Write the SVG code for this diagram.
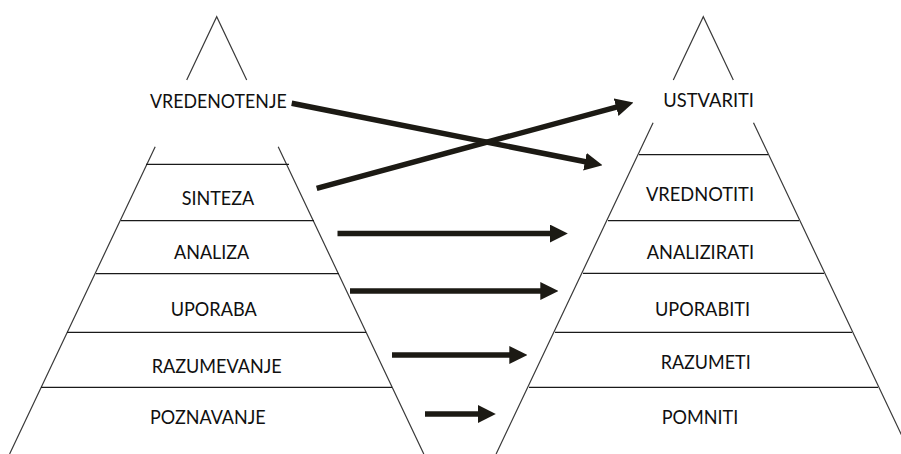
<svg xmlns="http://www.w3.org/2000/svg" width="901" height="454" viewBox="0 0 901 454">
<style>
.side{stroke:#3a3a3a;stroke-width:1.2;fill:none}
.lvl{stroke:#1a1a1a;stroke-width:1.3;fill:none}
.lbl{font-family:Lato,"Open Sans","Liberation Sans",sans-serif;font-size:19.5px;fill:#101010}
.arr{stroke:#1c1a14;stroke-width:5.5;fill:none;marker-end:url(#ah)}
</style>
<defs>
<marker id="ah" markerUnits="userSpaceOnUse" markerWidth="18" markerHeight="18" refX="3" refY="8.5" orient="auto" viewBox="0 0 17 17">
<path d="M0,0 L17,8.5 L0,17 z" fill="#1c1a14"/>
</marker>
</defs>
<rect width="901" height="454" fill="#fff"/>
<g id="left-pyramid">
<path class="side" d="M186.7,80 L216.7,16.7 L246.7,80"/>
<path class="side" d="M155.2,146.7 L9.6,454 M278.2,146.7 L423.8,454"/>
<path class="lvl" d="M146,164.3 H289 M121,220.7 H314 M96,273.7 H339 M67,332.3 H366 M41,387.3 H392"/>
</g>
<g id="right-pyramid">
<path class="side" d="M673.3,80 L703.3,16.7 L733.3,80"/>
<path class="side" d="M653.1,122.7 L496.1,454 M753.5,122.7 L906,444.5"/>
<path class="lvl" d="M639,154.7 H768 M608,220.7 H799 M583,273.3 H824 M555,332.3 H852 M529,387.3 H878"/>
</g>
<g id="n-vredenotenje"><text class="lbl" x="150" y="108" textLength="136.7" lengthAdjust="spacingAndGlyphs">VREDENOTENJE</text></g>
<g id="n-sinteza"><text class="lbl" x="181.7" y="205" textLength="72.6" lengthAdjust="spacingAndGlyphs">SINTEZA</text></g>
<g id="n-analiza"><text class="lbl" x="174" y="259.3" textLength="75.3" lengthAdjust="spacingAndGlyphs">ANALIZA</text></g>
<g id="n-uporaba"><text class="lbl" x="170.7" y="316" textLength="86" lengthAdjust="spacingAndGlyphs">UPORABA</text></g>
<g id="n-razumevanje"><text class="lbl" x="151.7" y="372.5" textLength="130" lengthAdjust="spacingAndGlyphs">RAZUMEVANJE</text></g>
<g id="n-poznavanje"><text class="lbl" x="150" y="424" textLength="115.7" lengthAdjust="spacingAndGlyphs">POZNAVANJE</text></g>
<g id="n-ustvariti"><text class="lbl" x="663.3" y="106.7" textLength="90.7" lengthAdjust="spacingAndGlyphs">USTVARITI</text></g>
<g id="n-vrednotiti"><text class="lbl" x="646" y="201" textLength="108" lengthAdjust="spacingAndGlyphs">VREDNOTITI</text></g>
<g id="n-analizirati"><text class="lbl" x="646.7" y="259.3" textLength="107.3" lengthAdjust="spacingAndGlyphs">ANALIZIRATI</text></g>
<g id="n-uporabiti"><text class="lbl" x="655" y="316" textLength="95" lengthAdjust="spacingAndGlyphs">UPORABITI</text></g>
<g id="n-razumeti"><text class="lbl" x="660.7" y="368.5" textLength="90" lengthAdjust="spacingAndGlyphs">RAZUMETI</text></g>
<g id="n-pomniti"><text class="lbl" x="661.7" y="424" textLength="76.6" lengthAdjust="spacingAndGlyphs">POMNITI</text></g>
<g id="connectors">
<line class="arr" x1="291.7" y1="103.3" x2="588" y2="162.3"/>
<line class="arr" x1="316.7" y1="188.3" x2="619.2" y2="106.4"/>
<line class="arr" x1="337.5" y1="233.5" x2="553" y2="233.5"/>
<line class="arr" x1="350" y1="291" x2="543.5" y2="291"/>
<line class="arr" x1="392" y1="355" x2="512.5" y2="355"/>
<line class="arr" x1="425" y1="414" x2="481" y2="414"/>
</g>
</svg>
